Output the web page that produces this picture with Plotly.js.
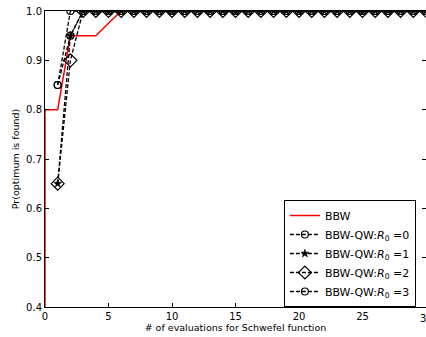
<!DOCTYPE html>
<html><head><meta charset="utf-8">
<script src="https://cdn.plot.ly/plotly-3.0.1.min.js"></script>
<style>body{margin:0;padding:0;background:#fff}#c{width:426px;height:337px}</style>
</head><body><div id="c"></div>
<script>
// Data
const bbwX = [0, 0, 1, 2, 3, 4, 5, 6, 7, 8, 9, 10, 11, 12, 13, 14, 15, 16, 17, 18, 19, 20, 21, 22, 23, 24, 25, 26, 27, 28, 29, 30];
const bbwY = [0, 0.8, 0.8, 0.95, 0.95, 0.95, 0.975, 1, 1, 1, 1, 1, 1, 1, 1, 1, 1, 1, 1, 1, 1, 1, 1, 1, 1, 1, 1, 1, 1, 1, 1, 1];
const qwX = [1, 2, 3, 4, 5, 6, 7, 8, 9, 10, 11, 12, 13, 14, 15, 16, 17, 18, 19, 20, 21, 22, 23, 24, 25, 26, 27, 28, 29, 30];
const r0Y = [0.85, 0.95, 1, 1, 1, 1, 1, 1, 1, 1, 1, 1, 1, 1, 1, 1, 1, 1, 1, 1, 1, 1, 1, 1, 1, 1, 1, 1, 1, 1];
const r1Y = [0.65, 0.95, 1, 1, 1, 1, 1, 1, 1, 1, 1, 1, 1, 1, 1, 1, 1, 1, 1, 1, 1, 1, 1, 1, 1, 1, 1, 1, 1, 1];
const r2Y = [0.65, 0.9, 1, 1, 1, 1, 1, 1, 1, 1, 1, 1, 1, 1, 1, 1, 1, 1, 1, 1, 1, 1, 1, 1, 1, 1, 1, 1, 1, 1];
const r3Y = [0.85, 1, 1, 1, 1, 1, 1, 1, 1, 1, 1, 1, 1, 1, 1, 1, 1, 1, 1, 1, 1, 1, 1, 1, 1, 1, 1, 1, 1, 1];
const names = ['BBW', 'BBW-QW:<i>R</i><sub>0</sub> =0', 'BBW-QW:<i>R</i><sub>0</sub> =1', 'BBW-QW:<i>R</i><sub>0</sub> =2', 'BBW-QW:<i>R</i><sub>0</sub> =3'];
const xTicks = [0, 5, 10, 15, 20, 25, 30];
const yTicks = [0.4, 0.5, 0.6, 0.7, 0.8, 0.9, 1.0];

const qwLine = {color: 'black', width: 1.3, dash: '4px,2px'};
const traces = [
  {x: bbwX, y: bbwY, name: names[0], mode: 'lines', line: {color: 'red', width: 1.5}},
  {x: qwX, y: r0Y, name: names[1], mode: 'lines+markers', line: qwLine,
   marker: {symbol: 'circle-open', size: 7, color: 'black', line: {width: 1.2, color: 'black'}}},
  {x: qwX, y: r1Y, name: names[2], mode: 'lines+markers', line: qwLine,
   marker: {symbol: 'star', size: 6, color: 'black', line: {width: 0.6, color: 'black'}}},
  {x: qwX, y: r2Y, name: names[3], mode: 'lines+markers', line: qwLine,
   marker: {symbol: 'diamond-open', size: 10, color: 'black', line: {width: 1.2, color: 'black'}}},
  {x: qwX, y: r3Y, name: names[4], mode: 'lines+markers', line: qwLine,
   marker: {symbol: 'circle-open', size: 7, color: 'black', line: {width: 1.2, color: 'black'}}}
];
traces.forEach(t => { t.cliponaxis = true; });

const tickFont = {family: 'DejaVu Sans', size: 10, color: 'black'};
const axisCommon = {
  showgrid: false, zeroline: false, showline: true, linecolor: 'black', linewidth: 1,
  mirror: 'ticks', ticks: 'inside', ticklen: 4, tickcolor: 'black', tickwidth: 1,
  tickfont: tickFont
};

const layout = {
  width: 426, height: 337,
  margin: {l: 45, r: 0, t: 11, b: 30, autoexpand: false},
  paper_bgcolor: 'white', plot_bgcolor: 'white',
  font: {family: 'DejaVu Sans', color: 'black'},
  xaxis: Object.assign({}, axisCommon, {
    range: [0, 30], tickvals: xTicks, ticktext: xTicks.map(String),
    title: {text: '# of evaluations for Schwefel function', font: {size: 9.5, family: 'DejaVu Sans'}, standoff: 2}
  }),
  yaxis: Object.assign({}, axisCommon, {
    range: [0.4, 1.0], tickvals: yTicks, ticktext: yTicks.map(v => v.toFixed(1)),
    title: {text: 'Pr(optimum is found)', font: {size: 9.5, family: 'DejaVu Sans'}, standoff: 4}
  }),
  annotations: [{
    x: xTicks[xTicks.length - 1], xref: 'x', y: 0, yref: 'paper', yshift: -4,
    text: String(xTicks[xTicks.length - 1]), showarrow: false,
    xanchor: 'center', yanchor: 'top', font: tickFont
  }],
  showlegend: true,
  legend: {
    x: 0.627, y: 0.0, xanchor: 'left', yanchor: 'bottom',
    bgcolor: 'white', bordercolor: 'black', borderwidth: 1,
    font: {family: 'DejaVu Sans', size: 11, color: 'black'},
    itemwidth: 30, tracegroupgap: 0
  }
};

Plotly.newPlot('c', traces, layout, {staticPlot: true, displayModeBar: false});
</script></body></html>
